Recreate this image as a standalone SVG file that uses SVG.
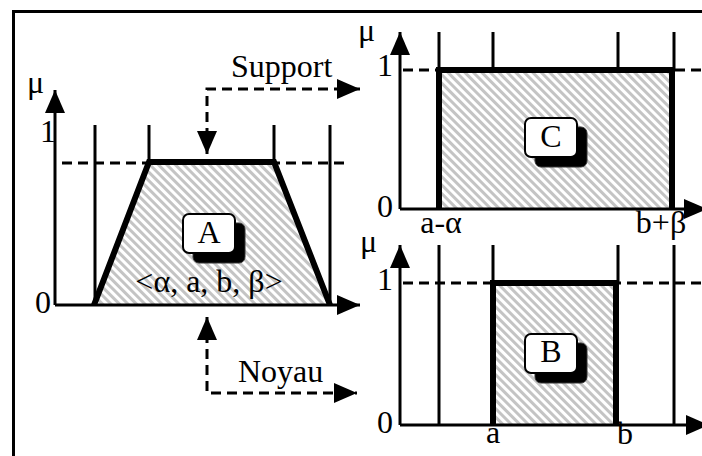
<svg xmlns="http://www.w3.org/2000/svg" width="702" height="456" viewBox="0 0 702 456">
<style>
  text { font-family: "Liberation Serif", "Times New Roman", serif; font-size: 32px; fill: #000; }
  .axis { stroke: #000; stroke-width: 3; fill: none; }
  .guide { stroke: #000; stroke-width: 3; fill: none; }
  .dash { stroke: #000; stroke-width: 3; fill: none; stroke-dasharray: 10 6; }
  .thick { stroke: #000; stroke-width: 6; fill: none; stroke-linejoin: miter; }
  .hatch { fill: url(#hatch); stroke: none; }
  .box { fill: #fff; stroke: #000; stroke-width: 2; }
  .shadow { fill: #000; stroke: #333; stroke-width: 1; }
  .mid { text-anchor: middle; }
</style>
<defs>
  <pattern id="hatch" patternUnits="userSpaceOnUse" width="6" height="6" patternTransform="rotate(-45)">
    <rect width="6" height="6" fill="#fff"/>
    <line x1="1.5" y1="0" x2="1.5" y2="6" stroke="#c4c4c4" stroke-width="3"/>
  </pattern>
  <marker id="arr" markerUnits="userSpaceOnUse" markerWidth="24" markerHeight="20" refX="23" refY="10" orient="auto-start-reverse">
    <path d="M0,0 L23,10 L0,20 z" fill="#000"/>
  </marker>
</defs>

<!-- frame -->
<g id="frame">
  <line x1="13" y1="11.5" x2="702" y2="11.5" stroke="#000" stroke-width="3"/>
  <line x1="13.5" y1="10" x2="13.5" y2="456" stroke="#000" stroke-width="3"/>
</g>

<!-- chart A -->
<g id="chartA">
  <polygon class="hatch" points="94,305 149,162 274,162 330,305"/>
  <line class="guide" x1="95" y1="125" x2="95" y2="305"/>
  <line class="guide" x1="149" y1="125" x2="149" y2="162"/>
  <line class="guide" x1="274" y1="125" x2="274" y2="162"/>
  <line class="guide" x1="330" y1="125" x2="330" y2="305"/>
  <line class="dash" x1="62" y1="163" x2="350" y2="163"/>
  <polyline class="thick" points="94,305 149,162 274,162 330,305"/>
  <line class="axis" x1="55" y1="305" x2="55" y2="90" marker-end="url(#arr)"/>
  <line class="axis" x1="55" y1="305" x2="360" y2="305" marker-end="url(#arr)"/>
  <text x="27" y="93">μ</text>
  <text class="mid" x="48" y="142">1</text>
  <text class="mid" x="43" y="313">0</text>
  <text class="mid" x="209" y="292">&lt;α, a, b, β&gt;</text>
</g>
<g id="nodeA">
  <rect class="shadow" x="193" y="223" width="52" height="40" rx="6"/>
  <rect class="box" x="183" y="214" width="52" height="39" rx="6"/>
  <text class="mid" x="209" y="243">A</text>
</g>

<!-- chart C -->
<g id="chartC">
  <rect class="hatch" x="439" y="70" width="233" height="139"/>
  <line class="guide" x1="439" y1="32" x2="439" y2="70"/>
  <line class="guide" x1="493" y1="32" x2="493" y2="70"/>
  <line class="guide" x1="618" y1="32" x2="618" y2="70"/>
  <line class="guide" x1="674" y1="32" x2="674" y2="70"/>
  <line class="dash" x1="403" y1="70" x2="702" y2="70"/>
  <polyline class="thick" points="439,209 439,70 672,70 672,209"/>
  <line class="axis" x1="400" y1="209" x2="400" y2="32" marker-end="url(#arr)"/>
  <line class="axis" x1="400" y1="209" x2="707" y2="209" marker-end="url(#arr)"/>
  <text x="358" y="41">μ</text>
  <text class="mid" x="385" y="76">1</text>
  <text class="mid" x="385" y="217">0</text>
  <text class="mid" x="441" y="233">a-α</text>
  <text class="mid" x="661" y="233">b+β</text>
</g>
<g id="nodeC">
  <rect class="shadow" x="535" y="127" width="52" height="40" rx="6"/>
  <rect class="box" x="525" y="118" width="52" height="39" rx="6"/>
  <text class="mid" x="551" y="147">C</text>
</g>

<!-- chart B -->
<g id="chartB">
  <rect class="hatch" x="493" y="283" width="123" height="142"/>
  <line class="guide" x1="439" y1="245" x2="439" y2="425"/>
  <line class="guide" x1="493" y1="245" x2="493" y2="283"/>
  <line class="guide" x1="618" y1="245" x2="618" y2="283"/>
  <line class="guide" x1="674" y1="245" x2="674" y2="425"/>
  <line class="dash" x1="403" y1="283" x2="702" y2="283"/>
  <polyline class="thick" points="493,425 493,283 616,283 616,425"/>
  <line class="axis" x1="400" y1="425" x2="400" y2="245" marker-end="url(#arr)"/>
  <line class="axis" x1="400" y1="425" x2="709" y2="425" marker-end="url(#arr)"/>
  <text x="360" y="252">μ</text>
  <text class="mid" x="385" y="290">1</text>
  <text class="mid" x="385" y="433">0</text>
  <text class="mid" x="493" y="443">a</text>
  <text class="mid" x="625" y="444">b</text>
</g>
<g id="nodeB">
  <rect class="shadow" x="535" y="343" width="52" height="40" rx="6"/>
  <rect class="box" x="525" y="334" width="52" height="39" rx="6"/>
  <text class="mid" x="551" y="362">B</text>
</g>

<!-- connectors -->
<g id="connectors">
  <path class="dash" d="M207,154 V89 H360" marker-start="url(#arr)" marker-end="url(#arr)"/>
  <text x="231" y="77">Support</text>
  <path class="dash" d="M207,317 V393 H357" marker-start="url(#arr)" marker-end="url(#arr)"/>
  <text x="238" y="382">Noyau</text>
</g>
</svg>
